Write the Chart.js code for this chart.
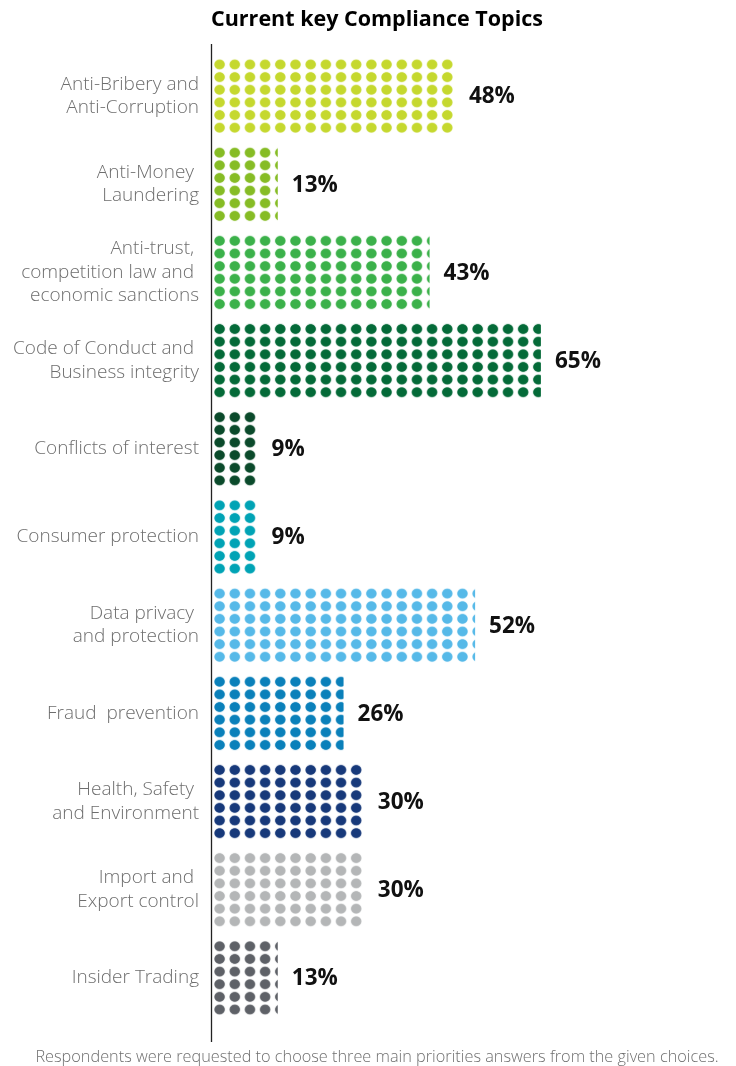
<!DOCTYPE html>
<html>
<head>
<meta charset="utf-8">
<style>
  html, body { margin: 0; padding: 0; background: #fff; }
  #wrap { position: relative; width: 736px; height: 1066px; }
</style>
</head>
<body>
<div id="wrap"><canvas id="myChart" width="736" height="1066"></canvas></div>
<script src="https://cdn.jsdelivr.net/npm/chart.js@4.4.1/dist/chart.umd.min.js"></script>
<script>
const topics = [
    ['Anti-Bribery and', 'Anti-Corruption'],
    ['Anti-Money ', 'Laundering'],
    ['Anti-trust, ', 'competition law and ', 'economic sanctions'],
    ['Code of Conduct and ', 'Business integrity'],
    'Conflicts of interest',
    'Consumer protection',
    ['Data privacy ', 'and protection'],
    'Fraud  prevention',
    ['Health, Safety ', 'and Environment'],
    ['Import and ', 'Export control'],
    'Insider Trading'
];
const shares = [48, 13, 43, 65, 9, 9, 52, 26, 30, 30, 13];
const dotColors = [
    '#c5d82e', '#86bc25', '#3bb14a', '#046a38', '#0b4a2b', '#00a3b5',
    '#56b9e8', '#0a80ba', '#17397a', '#b4b6b7', '#5e6167'
];

const ctx = document.getElementById('myChart').getContext('2d');

// one dot column stands for 3 percentage points, six rows per bar
const PCT_PER_COL = 3;
const ROWS = 6;
const patternCache = {};

function dotFill(context) {
    const chart = context.chart;
    const i = context.dataIndex;
    const color = dotColors[i];
    const xs = chart.scales.x, ys = chart.scales.y;
    if (!xs || !ys || !chart.chartArea) return color;

    const x0 = xs.getPixelForValue(0);
    const tw = xs.getPixelForValue(PCT_PER_COL) - x0;
    const slot = ys.getPixelForValue(1) - ys.getPixelForValue(0);
    const thick = slot * 0.86;
    const th = thick / ROWS;
    const top = ys.getPixelForValue(i) - thick / 2;

    const key = i + ':' + tw.toFixed(2) + ':' + th.toFixed(2) + ':' + top.toFixed(1);
    if (patternCache[key]) return patternCache[key];

    const k = 4;
    const W = Math.round(tw * k), H = Math.round(th * k);
    const tile = document.createElement('canvas');
    tile.width = W;
    tile.height = H;
    const t = tile.getContext('2d');
    t.fillStyle = color;
    t.beginPath();
    t.ellipse(W / 2, H / 2, 5.2 * k, 4.8 * k, 0, 0, Math.PI * 2);
    t.fill();

    const pat = ctx.createPattern(tile, 'repeat');
    pat.setTransform(new DOMMatrix().translate(x0, top).scale(tw / W, th / H));
    patternCache[key] = pat;
    return pat;
}

const extras = {
    id: 'extras',
    beforeDatasetsDraw(chart) {
        chart.ctx.imageSmoothingEnabled = true;
        chart.ctx.imageSmoothingQuality = 'high';
    },
    afterDatasetsDraw(chart) {
        const c = chart.ctx;
        const meta = chart.getDatasetMeta(0);
        c.save();
        c.fillStyle = '#111';
        c.font = 'bold 22.5px "Open Sans"';
        c.textAlign = 'left';
        c.textBaseline = 'middle';
        meta.data.forEach((bar, i) => {
            c.fillText(shares[i] + '%', bar.x + 14, bar.y + 1);
        });

        // vertical axis line
        const ax = Math.round(chart.scales.x.getPixelForValue(0)) - 0.5;
        c.strokeStyle = '#222';
        c.lineWidth = 1.3;
        c.beginPath();
        c.moveTo(ax, chart.chartArea.top - 8);
        c.lineTo(ax, chart.chartArea.bottom + 20);
        c.stroke();

        c.textAlign = 'center';
        c.fillStyle = '#000';
        c.font = 'bold 21.5px "Open Sans"';
        c.fillText('Current key Compliance Topics', 377, 20);

        c.fillStyle = '#6f6f6f';
        c.font = '300 16.3px "Open Sans"';
        c.fillText('Respondents were requested to choose three main priorities answers from the given choices.', 377, 1057);
        c.restore();
    }
};

const chart = new Chart(ctx, {
    type: 'bar',
    data: {
        labels: topics,
        datasets: [{
            data: shares,
            backgroundColor: dotFill,
            borderWidth: 0,
            barPercentage: 0.86,
            categoryPercentage: 1
        }]
    },
    options: {
        indexAxis: 'y',
        responsive: false,
        animation: false,
        events: [],
        layout: {
            padding: { top: 52, bottom: 44, right: 18, left: 0 }
        },
        plugins: {
            legend: { display: false },
            tooltip: { enabled: false }
        },
        scales: {
            x: {
                display: false,
                min: 0,
                max: 100
            },
            y: {
                grid: { display: false, drawTicks: false },
                border: { display: false },
                afterFit(scale) { scale.width = 212; },
                ticks: {
                    padding: 13,
                    color: '#6e6e6e',
                    font: { family: '"Open Sans"', size: 19, weight: 300, lineHeight: 1.24 }
                }
            }
        }
    },
    plugins: [extras]
});
</script>
</body>
</html>
